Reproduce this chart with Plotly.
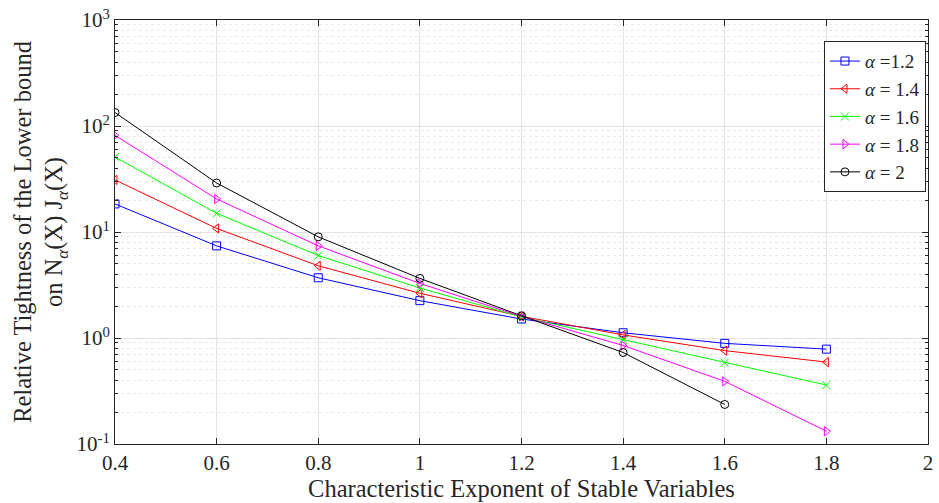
import plotly.graph_objects as go

# Characteristic exponent of the stable variables (x axis)
exponent = [0.4, 0.6, 0.8, 1.0, 1.2, 1.4, 1.6, 1.8]

# Relative tightness of the lower bound for each alpha
tight_a12 = [18.4, 7.4, 3.7, 2.25, 1.51, 1.12, 0.89, 0.785]
tight_a14 = [31.0, 10.8, 4.8, 2.64, 1.60, 1.07, 0.76, 0.593]
tight_a16 = [51.0, 15.0, 6.0, 2.96, 1.58, 0.96, 0.585, 0.36]
tight_a18 = [81.5, 20.5, 7.4, 3.27, 1.60, 0.85, 0.39, 0.132]
tight_a20 = [134.0, 29.0, 9.0, 3.65, 1.62, 0.73, 0.236]

# Decade tick labels on the log axis
y_tick_vals = [0.1, 1, 10, 100, 1000]
y_tick_text = ["10<sup>-1</sup>", "10<sup>0</sup>", "10<sup>1</sup>", "10<sup>2</sup>", "10<sup>3</sup>"]
x_tick_vals = [0.4, 0.6, 0.8, 1.0, 1.2, 1.4, 1.6, 1.8, 2.0]
x_tick_text = ["0.4", "0.6", "0.8", "1", "1.2", "1.4", "1.6", "1.8", "2"]

series = [
    ("<i>α</i> =1.2", tight_a12, "#0000ff", "square-open"),
    ("<i>α</i> = 1.4", tight_a14, "#ff0000", "triangle-left-open"),
    ("<i>α</i> = 1.6", tight_a16, "#00ff00", "x-thin-open"),
    ("<i>α</i> = 1.8", tight_a18, "#ff00ff", "triangle-right-open"),
    ("<i>α</i> = 2", tight_a20, "#000000", "circle-open"),
]

fig = go.Figure()
for name, vals, color, sym in series:
    fig.add_trace(go.Scatter(
        x=exponent[:len(vals)], y=vals, name=name, mode="lines+markers",
        line=dict(color=color, width=1),
        marker=dict(symbol=sym, size=8, color=color, line=dict(color=color, width=1)),
    ))

font = "Liberation Serif, Times New Roman, serif"
ink = "#262626"
axis_common = dict(
    showline=True, linecolor=ink, linewidth=1, mirror="ticks",
    ticks="inside", ticklen=6, tickcolor=ink,
    gridcolor="#e3e3e3", gridwidth=1, zeroline=False,
    tickfont=dict(family=font, size=21, color=ink),
)

fig.update_xaxes(
    range=[0.4, 2.0], tickmode="array", tickvals=x_tick_vals, ticktext=x_tick_text,
    title=dict(text="Characteristic Exponent of Stable Variables",
               font=dict(family=font, size=24.5, color=ink), standoff=4),
    **axis_common,
)
fig.update_yaxes(
    type="log", range=[-1, 3], tickmode="array", tickvals=y_tick_vals, ticktext=y_tick_text,
    minor=dict(ticks="inside", ticklen=3, tickcolor=ink, dtick="D1",
               showgrid=True, gridcolor="#e8e8e8", griddash="dot", gridwidth=1),
    title=dict(text="Relative Tightness of the Lower bound<br>on N<sub><i>α</i></sub>(X) J<sub><i>α</i></sub>(X)",
               font=dict(family=font, size=24.5, color=ink), standoff=6),
    **axis_common,
)

fig.update_layout(
    width=939, height=503,
    margin=dict(l=115, r=6, t=18, b=59),
    plot_bgcolor="white", paper_bgcolor="white",
    legend=dict(
        x=0.9975, y=0.95, xanchor="right", yanchor="top",
        bgcolor="white", bordercolor=ink, borderwidth=1,
        font=dict(family=font, size=19, color=ink),
        itemwidth=30, tracegroupgap=0,
    ),
)

fig.write_html("out.html")
